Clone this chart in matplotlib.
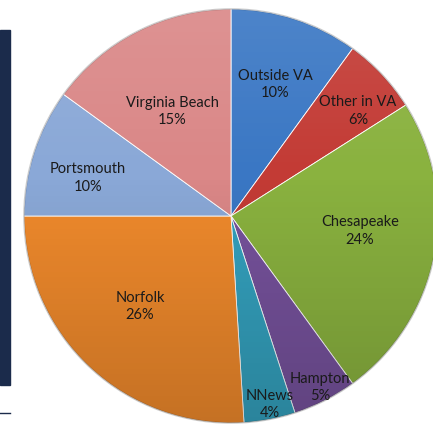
import numpy as np
import matplotlib
matplotlib.use('Agg')
import matplotlib.pyplot as plt
from matplotlib.patches import Rectangle, Circle

# share of each area, clockwise from 12 o'clock
areas = ['Outside VA', 'Other in VA', 'Chesapeake', 'Hampton', 'NNews',
         'Norfolk', 'Portsmouth', 'Virginia Beach']
shares = [10, 6, 24, 5, 4, 26, 10, 15]
colors = ['#3a77c4', '#c33b35', '#8ab23f', '#76529c', '#34a1be',
          '#f08a2c', '#8aa8d7', '#da8787']
# label placement: fraction of radius, and small angle nudge (deg, clockwise)
label_r = [0.677, 0.80, 0.627, 0.927, 0.923, 0.615, 0.716, 0.586]
label_da = [0.3, 3.3, -5.0, -0.6, -1.0, 2.4, -2.7, -2.1]

W, H = 433, 425
fig = plt.figure(figsize=(W / 100, H / 100), dpi=100)
ax = fig.add_axes([0, 0, 1, 1])

cx, cy, R = 231, H - 216, 207

wedges, _ = ax.pie(shares, colors=colors, startangle=90, counterclock=False,
                   center=(cx, cy), radius=R, frame=True,
                   wedgeprops=dict(edgecolor='white', linewidth=0.6))
ax.set_xlim(0, W)
ax.set_ylim(0, H)
ax.set_aspect('equal')
ax.axis('off')

# office style shading: a bit lighter at the top, darker toward the bottom
t = np.linspace(0, 1, 256).reshape(-1, 1)
shade = np.zeros((256, 1, 4))
top = t < 0.4
shade[top[:, 0], 0, :3] = 1.0
shade[..., 3] = np.where(top, 0.10 * (0.4 - t) / 0.4, 0.18 * (t - 0.4) / 0.6)
im = ax.imshow(shade, extent=(cx - R, cx + R, cy - R, cy + R),
               origin='upper', aspect='auto', zorder=3)
im.set_clip_path(Circle((cx, cy), R, transform=ax.transData))
ax.add_patch(Circle((cx, cy), R, fill=False, edgecolor='#00000030', lw=1.2, zorder=4))

# labels
start = 0.0
for name, val, lr, da in zip(areas, shares, label_r, label_da):
    mid = np.deg2rad(start + val * 3.6 / 2 + da)
    start += val * 3.6
    x = cx + lr * R * np.sin(mid)
    y = cy + lr * R * np.cos(mid) - 1.5
    ax.text(x, y, f'{name}\n{val}%', ha='center', va='center',
            fontsize=10.5, color='#1a1a1a', family='Lato',
            linespacing=1.35, zorder=5)

# dark side bar and rule at the left edge
ax.add_patch(Rectangle((0, H - 385), 10, 355, color='#1b2b4b', zorder=1))
ax.plot([0, 10], [H - 413, H - 413], color='#1b2b4b', lw=1)

fig.savefig('out.png', dpi=100)
